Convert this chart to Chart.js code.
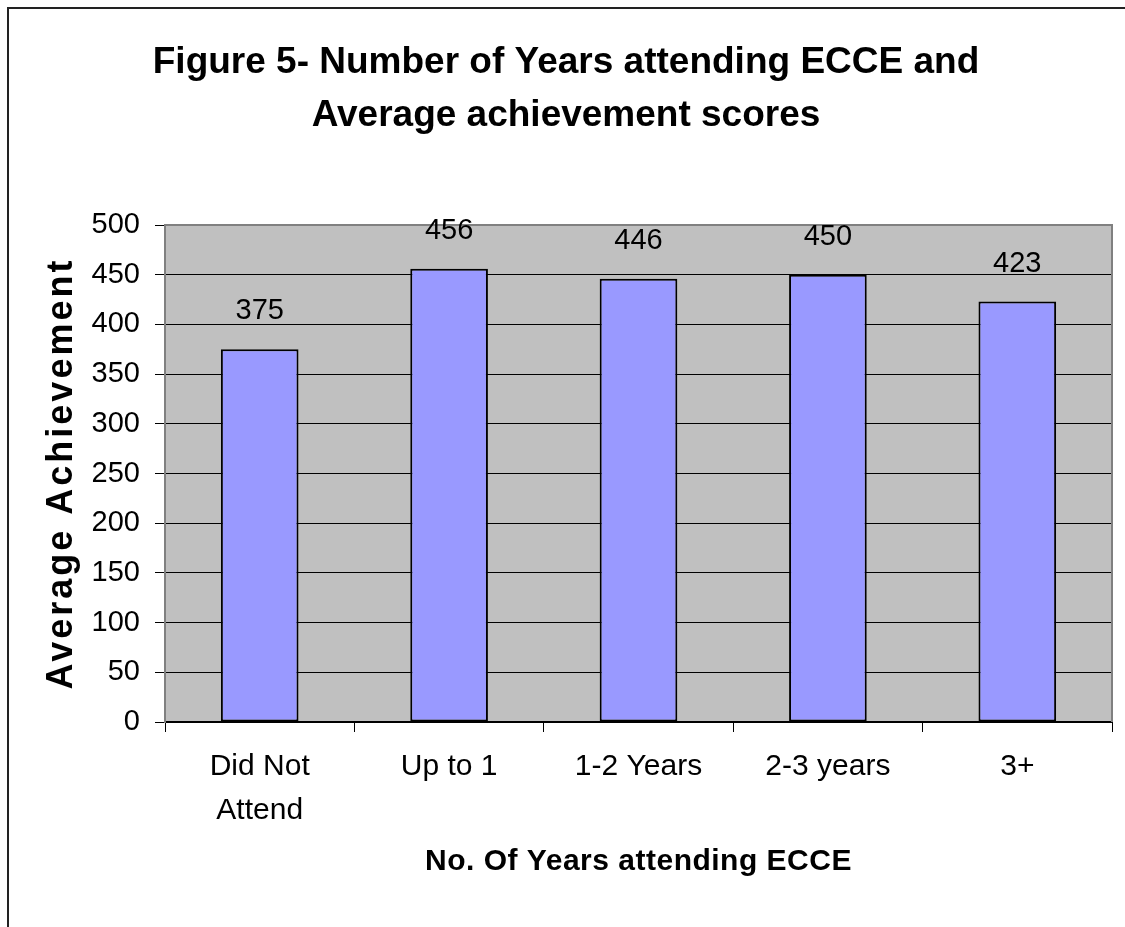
<!DOCTYPE html>
<html>
<head>
<meta charset="utf-8">
<script src="https://cdn.jsdelivr.net/npm/chart.js@4/dist/chart.umd.min.js"></script>
<style>
html,body{margin:0;padding:0;background:#fff;overflow:hidden}
#wrap{position:relative;width:1125px;height:927px}
#frame{position:absolute;left:7px;top:7px;width:1200px;height:1000px;border:2px solid #222;pointer-events:none}
</style>
</head>
<body>
<div id="wrap">
  <canvas id="chart1" width="1125" height="927"></canvas>
  <div id="frame"></div>
</div>
<script>
/* DATA */
const categories=[["Did Not","Attend"],"Up to 1","1-2 Years","2-3 years","3+"];
const scores=[375,456,446,450,423];
const yTicks=[0,50,100,150,200,250,300,350,400,450,500];

const titleLines=["Figure 5- Number of Years attending ECCE and","Average achievement scores"];
const xTitle="No. Of Years attending ECCE";
const yTitle="Average Achievement";

const FONT="Arial, 'Liberation Sans', sans-serif";

/* PLOT AREA: grey fill + grey frame on top/right */
const plotArea={
  id:"plotArea",
  beforeDraw(chart){
    const {ctx,chartArea:a}=chart;
    ctx.save();
    ctx.fillStyle="#C0C0C0";
    ctx.fillRect(a.left,a.top,a.right-a.left,a.bottom-a.top);
    ctx.restore();
  },
  beforeDatasetsDraw(chart){
    const {ctx,chartArea:a}=chart;
    ctx.save();
    ctx.strokeStyle="#808080";
    ctx.lineWidth=2;
    ctx.beginPath();
    ctx.moveTo(a.left,a.top);
    ctx.lineTo(a.right,a.top);
    ctx.lineTo(a.right,a.bottom);
    ctx.stroke();
    ctx.restore();
  }
};

/* axis titles in the original are a bit spaced out */
const spacedTitles={
  id:"spacedTitles",
  afterLayout(chart){
    [["y","3px"],["x","0.5px"]].forEach(([id,sp])=>{
      const s=chart.scales[id];
      if(s._spaced)return;
      const orig=s.drawTitle.bind(s);
      s.drawTitle=function(){
        chart.ctx.save();
        chart.ctx.letterSpacing=sp;
        orig();
        chart.ctx.restore();
      };
      s._spaced=true;
    });
  }
};

/* VALUE LABELS above bars */
const valueLabels={
  id:"valueLabels",
  afterDatasetsDraw(chart){
    const ctx=chart.ctx;
    ctx.save();
    ctx.font="29px "+FONT;
    ctx.fillStyle="#000";
    ctx.textAlign="center";
    ctx.textBaseline="middle";
    chart.getDatasetMeta(0).data.forEach((bar,i)=>{
      ctx.fillText(String(scores[i]),bar.x,bar.y-38);
    });
    ctx.restore();
  }
};

new Chart(chart1,{
  type:"bar",
  data:{
    labels:categories,
    datasets:[{
      data:scores,
      backgroundColor:"#9999FF",
      borderColor:"#000",
      borderWidth:2,
      borderSkipped:false,
      barPercentage:0.41,
      categoryPercentage:1
    }]
  },
  options:{
    responsive:false,
    animation:false,
    layout:{padding:{left:20,right:13,top:0,bottom:0}},
    plugins:{
      legend:{display:false},
      tooltip:{enabled:false},
      title:{
        display:true,
        text:titleLines,
        color:"#000",
        font:{family:FONT,size:37,weight:"bold",lineHeight:53/37},
        padding:{top:36,bottom:83}
      }
    },
    scales:{
      x:{
        afterFit(s){s.height=205;},
        grid:{display:true,drawOnChartArea:false,drawTicks:true,tickLength:10,color:"#000",offset:true},
        border:{display:true,color:"#000",width:2},
        ticks:{color:"#000",padding:13,maxRotation:0,autoSkip:false,font:{family:FONT,size:30,lineHeight:1.45}},
        title:{display:true,text:xTitle,color:"#000",font:{family:FONT,size:30,weight:"bold",lineHeight:1.2},padding:{top:12,bottom:47}}
      },
      y:{
        min:0,max:500,
        afterFit(s){s.width=145;},
        afterBuildTicks(s){s.ticks=yTicks.map(v=>({value:v}));},
        grid:{color:"#000",lineWidth:1,tickLength:10,tickColor:"#000"},
        border:{display:true,color:"#808080",width:2},
        ticks:{color:"#000",padding:15,font:{family:FONT,size:29}},
        title:{display:true,text:yTitle,color:"#000",font:{family:FONT,size:36,weight:"bold",lineHeight:1.2},padding:{top:20,bottom:0}}
      }
    }
  },
  plugins:[plotArea,spacedTitles,valueLabels]
});
</script>
</body>
</html>
